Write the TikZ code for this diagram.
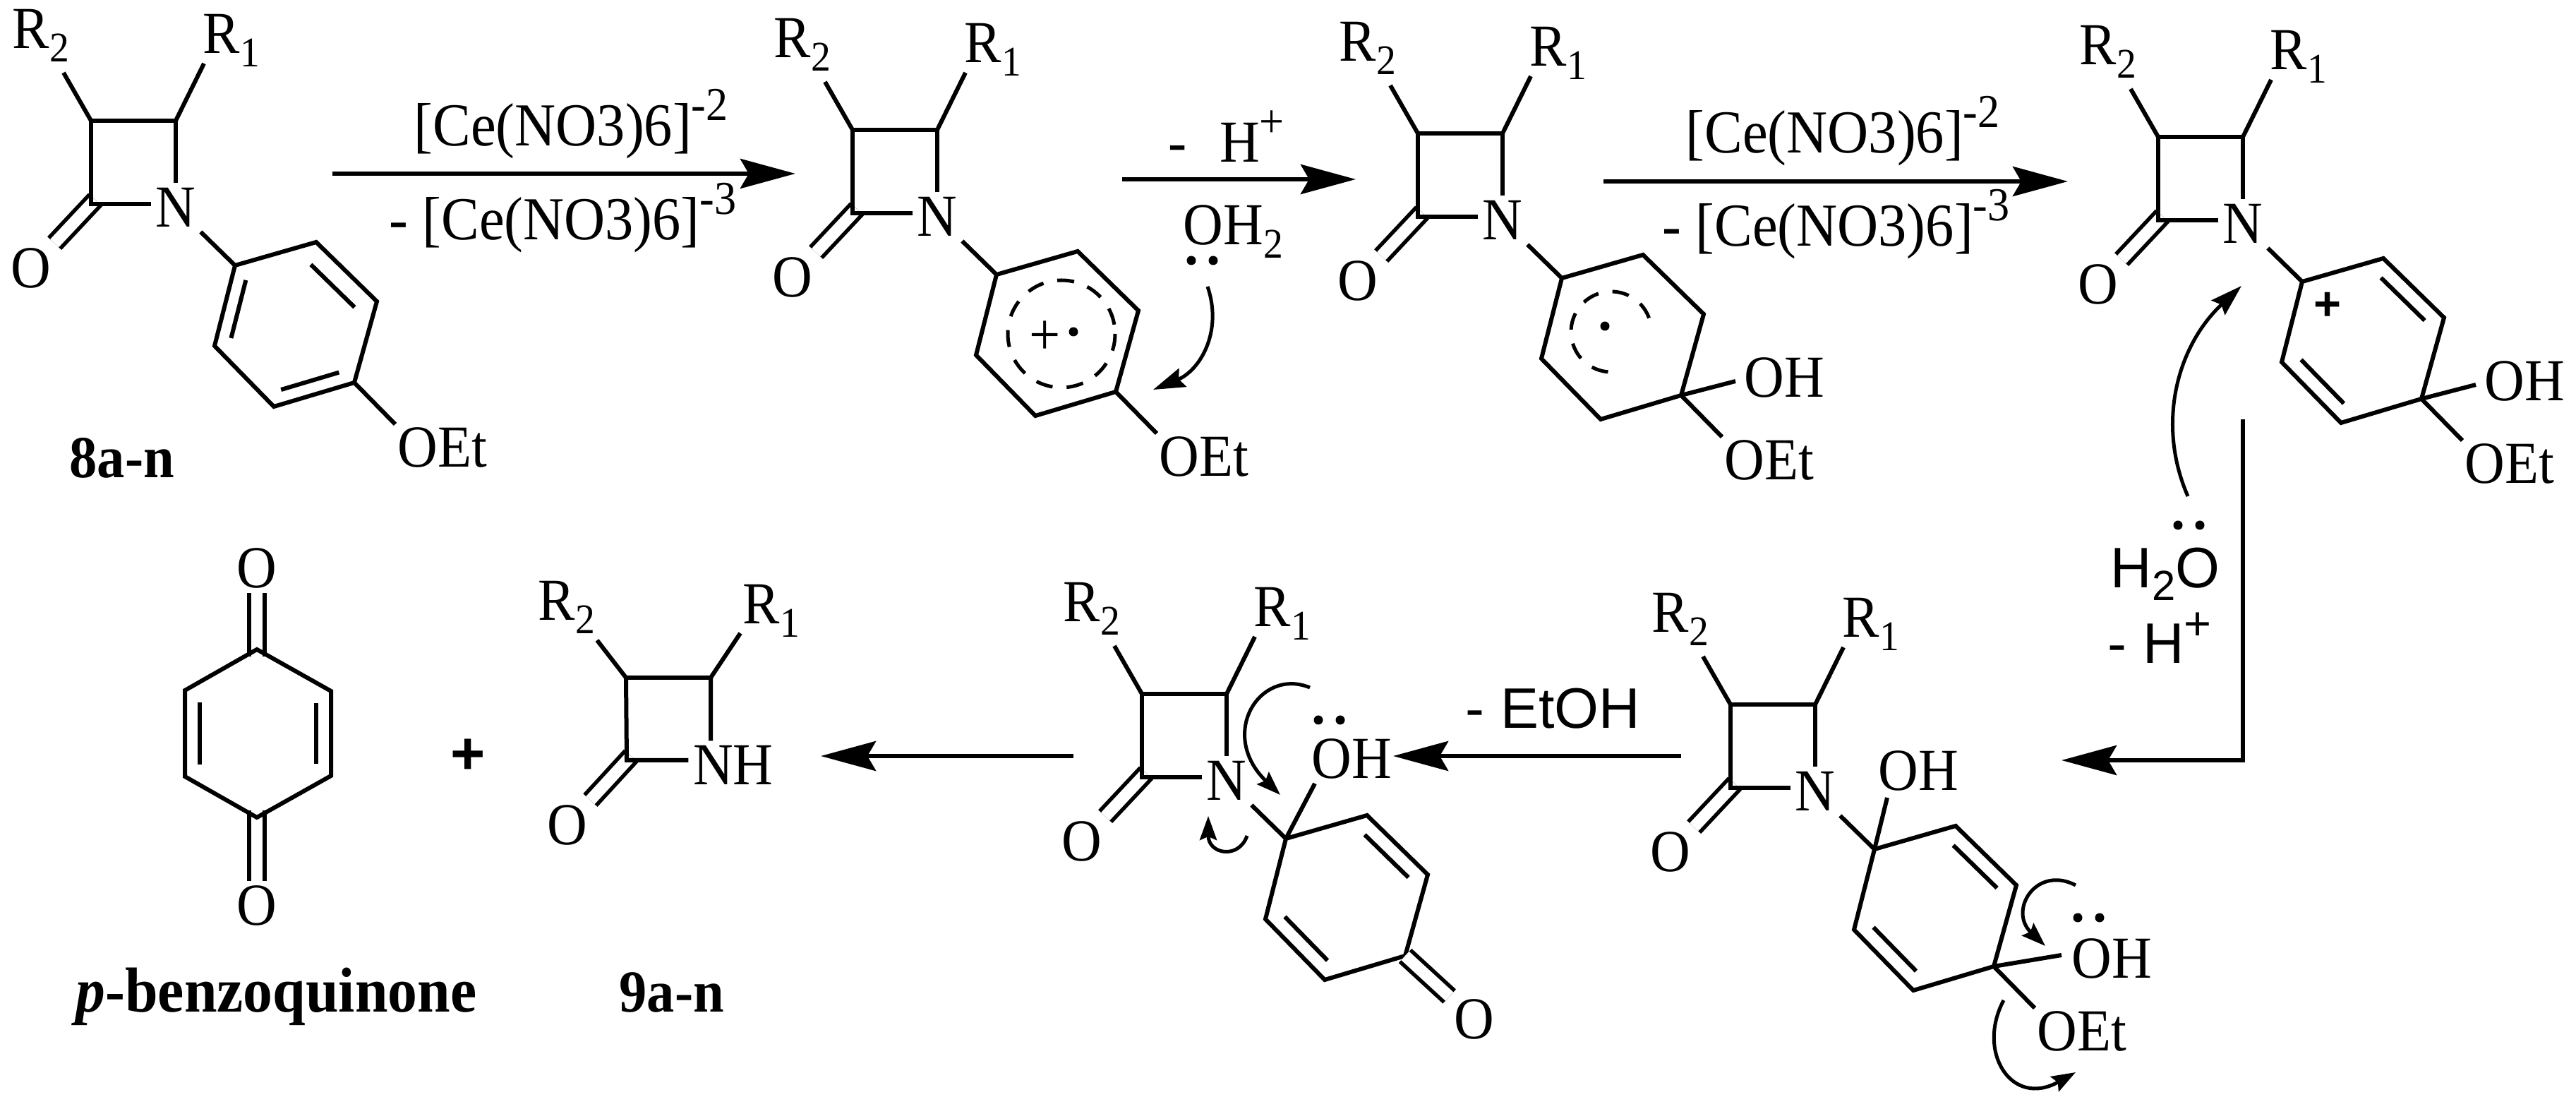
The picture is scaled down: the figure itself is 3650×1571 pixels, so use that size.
\documentclass[tikz,border=0pt]{standalone}
\usepackage{fontspec}
\setmainfont[FakeStretch=0.93]{Liberation Serif}
\setsansfont{Liberation Sans}
\usetikzlibrary{arrows.meta,calc}
\newcommand{\lsub}[1]{\raisebox{-.22em}{\fontsize{17}{17}\selectfont #1}}
\newcommand{\lsup}[1]{\raisebox{.42em}{\fontsize{19}{19}\selectfont #1}}
\tikzset{
  bond/.style={line width=.06cm},
  dbl/.style={line width=.055cm,double,double distance=.165cm},
  rxn/.style={line width=.06cm,-{Stealth[length=.78cm,width=.42cm,inset=.12cm]}},
  curly/.style={line width=.05cm,-{Stealth[length=.45cm,width=.28cm,inset=.06cm]}},
  smallcurly/.style={line width=.05cm,-{Stealth[length=.34cm,width=.24cm,inset=.05cm]}},
  dashring/.style={line width=.05cm,dash pattern=on .24cm off .2cm},
  atom/.style={font=\fontsize{24}{28}\selectfont,inner sep=0pt,outer sep=.07cm},
  lbl/.style={font=\fontsize{24}{28}\selectfont,inner sep=0pt,anchor=base west},
  celbl/.style={font=\fontsize{24.6}{28}\selectfont,inner sep=0pt,anchor=base west},
  sanslbl/.style={font=\sffamily\fontsize{23}{28}\selectfont,inner sep=0pt,anchor=base west},
  boldlbl/.style={font=\bfseries\fontsize{24}{28}\selectfont,inner sep=0pt,anchor=base west},
  pluslbl/.style={font=\sffamily\bfseries\fontsize{24}{28}\selectfont,inner sep=0pt}
}
\newcommand{\lactam}[3]{
  \begin{scope}[shift={(#2,#3)}]
    \coordinate (#1cb) at (129,171);
    \coordinate (#1ca) at (249,171);
    \coordinate (#1co) at (129,289);
    \coordinate (#1cm) at (135,283);
    \coordinate (#1ra) at (289,90);
    \coordinate (#1rb) at (90,103);
    \coordinate (#1a) at (333,376);
    \coordinate (#1b) at (448,343);
    \coordinate (#1c) at (534,427);
    \coordinate (#1d) at (502,542);
    \coordinate (#1e) at (388,576);
    \coordinate (#1f) at (304,490);
    \node[atom] (#1N) at (249,294) {N};
    \node[atom] (#1O) at (44,380) {O};
    \node[lbl] (#1Ra) at (287,76) {R\lsub{1}};
    \node[lbl] (#1Rb) at (17,69) {R\lsub{2}};
  \end{scope}
  \draw[dbl] (#1cm) -- (#1O);
  \draw[bond] (#1rb) -- (#1cb);
  \draw[bond] (#1ra) -- (#1ca);
  \draw[bond] (#1N) -- (#1ca) -- (#1cb) -- (#1co) -- (#1N.west |- #1co);
  \draw[bond] (#1N) -- (#1a);
  \draw[bond] (#1a) -- (#1b) -- (#1c) -- (#1d) -- (#1e) -- (#1f) -- cycle;
}
\newcommand{\inbond}[3][.2cm]{
  \draw[bond] ($(#2)!.14!(#3)!#1!90:(#3)$) -- ($(#3)!.14!(#2)!#1!-90:(#2)$);
}
\newcommand{\oet}[1]{
  \coordinate (#1oe) at ($(#1d)+(58,59)$);
  \node[atom] (#1OEt) at ($(#1d)+(125,92)$) {OEt};
  \draw[bond] (#1d) -- (#1oe);
}
\newcommand{\ohd}[1]{
  \coordinate (#1oh) at ($(#1d)+(77,-20)$);
  \node[atom] (#1OH) at ($(#1d)+(146,-25)$) {OH};
  \draw[bond] (#1d) -- (#1oh);
}
\newcommand{\lonepair}[2]{
  \fill (#1,#2) circle[radius=6.5] ++(31,0) circle[radius=6.5];
}
\begin{document}
\begin{tikzpicture}[x=.01cm,y=-.01cm]
  \useasboundingbox (0,0) rectangle (3650,1571);

  \lactam{ma}{0}{0}
  \lactam{mb}{1079}{13}
  \lactam{mc}{1880}{18}
  \lactam{md}{2929}{23}
  \lactam{me}{2323}{827}
  \lactam{mf}{1489}{812}

  \inbond{maa}{maf}
  \inbond[.28cm]{mac}{mab}
  \inbond{mae}{mad}
  \oet{ma}
  \node[boldlbl] (lab8) at (98,677) {8a-n};

  \draw[dashring] (1504,473) circle[radius=76];
  \node[atom] (plusb) at (1481,479) {+};
  \fill (1521,470) circle[radius=6.5];
  \oet{mb}

  \draw[dashring] (2283,470) ++(-20:57) arc[start angle=-20,end angle=-270,radius=57];
  \fill (2274,462) circle[radius=6.5];
  \oet{mc}
  \ohd{mc}

  \inbond[.22cm]{mdc}{mdb}
  \inbond[.22cm]{mdf}{mde}
  \node[pluslbl,font=\sffamily\bfseries\fontsize{19}{22}\selectfont] (plusd) at (3298,434) {+};
  \oet{md}
  \ohd{md}

  \inbond[.22cm]{mec}{meb}
  \inbond[.22cm]{mef}{mee}
  \oet{me}
  \coordinate (meoh) at (2674,1130);
  \node[atom] (meOH) at (2718,1092) {OH};
  \draw[bond] (mea) -- (meoh);
  \coordinate (meohb) at (2921,1353);
  \node[atom] (meOHb) at (2992,1358) {OH};
  \draw[bond] (med) -- (meohb);
  \lonepair{2944}{1300}
  \coordinate (mes1) at (2941,1254);
  \coordinate (mee1) at (2898,1340);
  \draw[smallcurly] (mes1) .. controls (2885,1225) and (2845,1290) .. (mee1);
  \coordinate (mes2) at (2839,1417);
  \coordinate (mee2) at (2941,1519);
  \draw[smallcurly] (mes2) .. controls (2800,1490) and (2850,1570) .. (mee2);

  \inbond[.22cm]{mfc}{mfb}
  \inbond[.22cm]{mff}{mfe}
  \coordinate (mfoh) at (1863,1110);
  \node[atom] (mfOH) at (1915,1075) {OH};
  \draw[bond] (mfa) -- (mfoh);
  \lonepair{1868}{1020}
  \node[atom] (mfOk) at (2089,1444) {O};
  \draw[dbl] (mfd) -- (mfOk);
  \coordinate (mfs1) at (1856,974);
  \coordinate (mfe1) at (1814,1126);
  \draw[smallcurly] (mfs1) .. controls (1785,945) and (1725,1040) .. (mfe1);
  \coordinate (mfs2) at (1767,1184);
  \coordinate (mfe2) at (1712,1156);
  \draw[smallcurly] (mfs2) .. controls (1755,1218) and (1712,1210) .. (mfe2);

  % 9a-n
  \coordinate (ngb) at (887,960);
  \coordinate (nga) at (1007,960);
  \coordinate (ngo) at (888,1077);
  \coordinate (ngm) at (894,1071);
  \coordinate (ngrb) at (846,907);
  \coordinate (ngra) at (1049,897);
  \node[atom] (ngNH) at (1039,1084) {NH};
  \node[atom] (ngO) at (804,1169) {O};
  \node[lbl] (ngRa) at (1052,884) {R\lsub{1}};
  \node[lbl] (ngRb) at (762,879) {R\lsub{2}};
  \draw[dbl] (ngm) -- (ngO);
  \draw[bond] (ngrb) -- (ngb);
  \draw[bond] (ngra) -- (nga);
  \draw[bond] (nga |- ngNH.north) -- (nga) -- (ngb) -- (ngo) -- (ngNH.west |- ngo);
  \node[boldlbl] (lab9) at (877,1434) {9a-n};

  % p-benzoquinone
  \coordinate (qa) at (364,920);
  \coordinate (qb) at (469,979);
  \coordinate (qc) at (469,1099);
  \coordinate (qd) at (364,1158);
  \coordinate (qe) at (262,1100);
  \coordinate (qf) at (262,978);
  \coordinate (qat) at (364,930);
  \coordinate (qdt) at (364,1148);
  \node[atom] (qOa) at (364,805) {O};
  \node[atom] (qOd) at (364,1283) {O};
  \draw[dbl] (qat) -- (qOa);
  \draw[dbl] (qdt) -- (qOd);
  \draw[bond] (qa) -- (qb) -- (qc) -- (qd) -- (qe) -- (qf) -- cycle;
  \inbond[.21cm]{qf}{qe}
  \inbond[.21cm]{qc}{qb}
  \node[boldlbl,font=\bfseries\fontsize{25.6}{28}\selectfont] (labq) at (107,1434) {\textit{p}-benzoquinone};
  \node[pluslbl] (plus) at (663,1072) {+};

  % arrows
  \coordinate (s1) at (471,246);
  \coordinate (e1) at (1127,246);
  \draw[rxn] (s1) -- (e1);
  \node[celbl] (ce1) at (586,207) {[Ce(NO3)6]\lsup{-2}};
  \node[celbl] (ce2) at (551,340) {- [Ce(NO3)6]\lsup{-3}};

  \coordinate (s2) at (1590,254);
  \coordinate (e2) at (1921,254);
  \draw[rxn] (s2) -- (e2);
  \node[lbl] (hp) at (1655,230) {-\hspace{.55em}H\lsup{+}};
  \node[lbl] (wat) at (1676,347) {OH\lsub{2}};
  \lonepair{1688}{369}
  \coordinate (s3) at (1711,406);
  \coordinate (e3) at (1634,552);
  \draw[curly] (s3) .. controls (1733,470) and (1700,525) .. (e3);

  \coordinate (s4) at (2272,257);
  \coordinate (e4) at (2930,257);
  \draw[rxn] (s4) -- (e4);
  \node[celbl] (ce3) at (2388,217) {[Ce(NO3)6]\lsup{-2}};
  \node[celbl] (ce4) at (2355,349) {- [Ce(NO3)6]\lsup{-3}};

  \coordinate (s5) at (3178,594);
  \coordinate (k5) at (3178,1077);
  \coordinate (e5) at (2921,1077);
  \draw[rxn] (s5) -- (k5) -- (e5);
  \node[sanslbl] (h2o) at (2990,833) {H\lsub{2}O};
  \node[sanslbl] (hq) at (2986,940) {- H\lsup{+}};
  \lonepair{3086}{744}
  \coordinate (s6) at (3100,703);
  \coordinate (e6) at (3176,405);
  \draw[curly] (s6) .. controls (3055,600) and (3085,490) .. (e6);

  \coordinate (s7) at (2382,1071);
  \coordinate (e7) at (1974,1071);
  \draw[rxn] (s7) -- (e7);
  \node[sanslbl] (etoh) at (2076,1032) {- EtOH};

  \coordinate (s8) at (1521,1071);
  \coordinate (e8) at (1163,1071);
  \draw[rxn] (s8) -- (e8);
\end{tikzpicture}
\end{document}
